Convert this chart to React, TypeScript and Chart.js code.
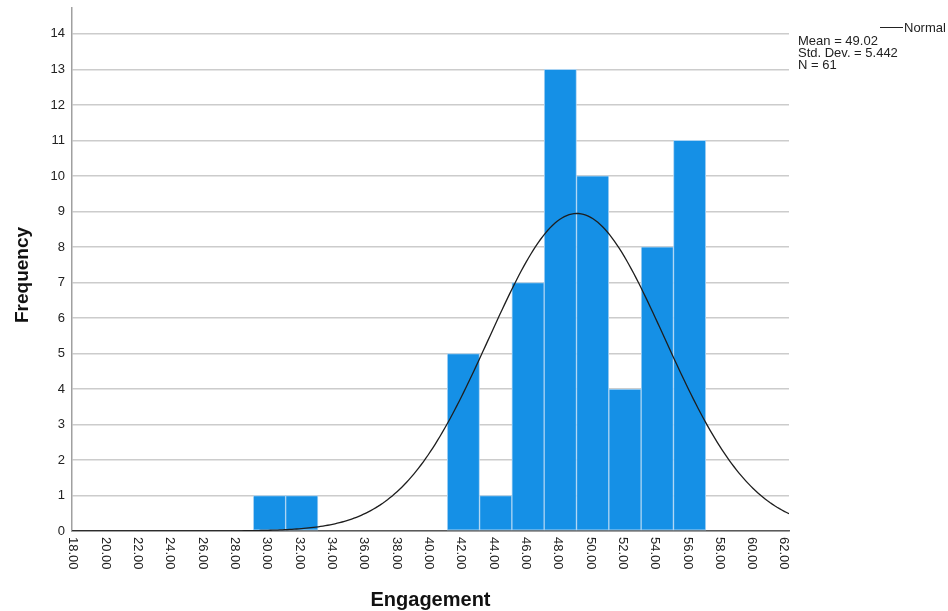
import { useEffect, useRef } from "react";
import { Chart, registerables } from "chart.js";

Chart.register(...registerables);

// Histogram bins (centres) and frequencies
const binCenters = [30, 32, 42, 44, 46, 48, 50, 52, 54, 56];
const frequencies = [1, 1, 5, 1, 7, 13, 10, 4, 8, 11];

// Axis tick labels
const xTickValues = [18, 20, 22, 24, 26, 28, 30, 32, 34, 36, 38, 40, 42, 44, 46, 48, 50, 52, 54, 56, 58, 60, 62];
const yTickValues = [0, 1, 2, 3, 4, 5, 6, 7, 8, 9, 10, 11, 12, 13, 14];

// Normal curve parameters (as stated in the chart)
const meanValue = 49.02;
const stdDev = 5.442;
const sampleSize = 61;
const binWidth = 2;
const xMin = 17.78;
const xMax = 62.15;
const yMax = 14.73;

const statsLines = ["Mean = 49.02", "Std. Dev. = 5.442", "N = 61"];

const FONT = '"Liberation Sans", Arial, sans-serif';

function normalCurve() {
  const pts: { x: number; y: number }[] = [];
  const k = (sampleSize * binWidth) / (stdDev * Math.sqrt(2 * Math.PI));
  const n = 300;
  for (let i = 0; i <= n; i++) {
    const x = xMin + ((xMax - xMin) * i) / n;
    const z = (x - meanValue) / stdDev;
    pts.push({ x, y: k * Math.exp(-0.5 * z * z) });
  }
  return pts;
}

const textPlugin = {
  id: "textPlugin",
  afterDraw(chart: any) {
    const ctx = chart.ctx as CanvasRenderingContext2D;
    const xs = chart.scales.x;
    const area = chart.chartArea;
    ctx.save();
    ctx.fillStyle = "#222";
    ctx.font = `13px ${FONT}`;
    ctx.textAlign = "left";
    ctx.textBaseline = "middle";
    xTickValues.forEach((v) => {
      const px = xs.getPixelForValue(v);
      ctx.save();
      ctx.translate(px - 2.5, area.bottom + 6);
      ctx.rotate(Math.PI / 2);
      ctx.fillText(v.toFixed(2), 0, 0);
      ctx.restore();
    });

    // axis titles
    ctx.font = `bold 20px ${FONT}`;
    ctx.textAlign = "center";
    ctx.fillStyle = "#111";
    ctx.fillText("Engagement", (area.left + area.right) / 2, 600);
    ctx.save();
    ctx.translate(23, 275);
    ctx.rotate(-Math.PI / 2);
    ctx.font = `bold 19px ${FONT}`;
    ctx.fillText("Frequency", 0, 0);
    ctx.restore();

    // legend
    ctx.strokeStyle = "#222";
    ctx.lineWidth = 1;
    ctx.beginPath();
    ctx.moveTo(880, 27.5);
    ctx.lineTo(903, 27.5);
    ctx.stroke();
    ctx.font = `13px ${FONT}`;
    ctx.textAlign = "left";
    ctx.fillStyle = "#222";
    ctx.fillText("Normal", 904, 28);
    const ys = [41, 53, 65];
    statsLines.forEach((t, i) => ctx.fillText(t, 798, ys[i]));
    ctx.restore();
  },
};

export default function App() {
  const ref = useRef<HTMLCanvasElement | null>(null);
  useEffect(() => {
    if (!ref.current) return;
    const chart = new Chart(ref.current, {
      type: "bar",
      data: {
        datasets: [
          {
            type: "line",
            label: "Normal",
            data: normalCurve(),
            borderColor: "#1e1e1e",
            borderWidth: 1.3,
            pointRadius: 0,
            tension: 0,
            fill: false,
            order: 0,
          } as any,
          {
            type: "bar",
            label: "Frequency",
            data: binCenters.map((c, i) => ({ x: c, y: frequencies[i] })),
            backgroundColor: "#1590e6",
            borderColor: "#a9d3f3",
            borderWidth: 1,
            borderSkipped: false,
            barPercentage: 1,
            categoryPercentage: 1,
            order: 1,
          } as any,
        ],
      },
      options: {
        animation: false,
        responsive: false,
        events: [],
        layout: { padding: { left: 0, right: 159, top: 8, bottom: 0 } },
        plugins: {
          legend: { display: false },
          tooltip: { enabled: false },
          title: { display: false },
        },
        scales: {
          x: {
            type: "linear",
            min: xMin,
            max: xMax,
            offset: false,
            afterBuildTicks: (s: any) => {
              s.ticks = xTickValues.map((v) => ({ value: v }));
            },
            afterFit: (s: any) => {
              s.height = 80;
              s.paddingLeft = 0;
              s.paddingRight = 0;
            },
            ticks: { display: false },
            grid: { display: true, offset: false, color: "rgba(0,0,0,0)", drawTicks: false },
            border: { display: true, color: "#5a5a5a", width: 1.5 },
          },
          y: {
            type: "linear",
            min: 0,
            max: yMax,
            afterBuildTicks: (s: any) => {
              s.ticks = yTickValues.map((v) => ({ value: v }));
            },
            afterFit: (s: any) => {
              s.width = 72;
              s.paddingTop = 0;
              s.paddingBottom = 0;
            },
            ticks: {
              padding: 7,
              color: "#222",
              font: { family: FONT, size: 13 },
              callback: (v: any) => String(v),
            },
            grid: { color: "#cccccc", lineWidth: 1.5, drawTicks: false },
            border: { display: true, color: "#a0a0a0", width: 1.5 },
          },
        },
      },
      plugins: [textPlugin],
    });
    return () => chart.destroy();
  }, []);
  return (
    <div style={{ position: "fixed", left: 0, top: 0, width: 948, height: 611, background: "#fff" }}>
      <canvas ref={ref} width={948} height={611} style={{ display: "block" }} />
    </div>
  );
}
